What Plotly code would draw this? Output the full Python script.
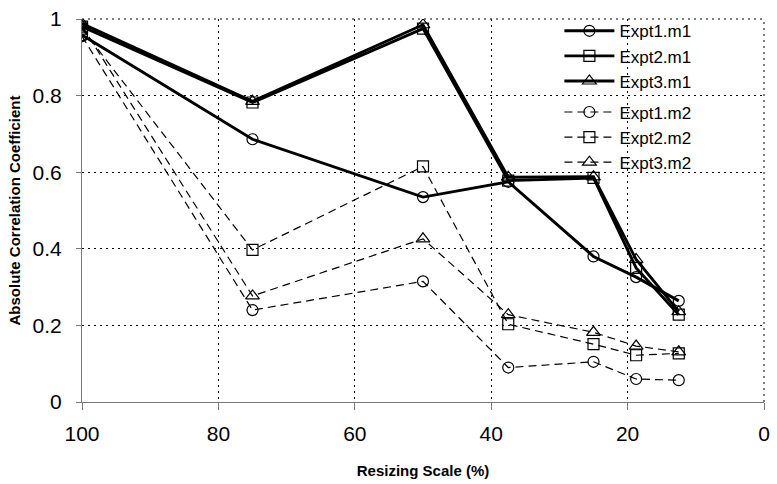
import plotly.graph_objects as go

# Resizing scale (%) for each test point
scale = [100, 75, 50, 37.5, 25, 18.75, 12.5]

# Absolute correlation coefficients, method 1
expt1_m1 = [0.958, 0.686, 0.535, 0.575, 0.380, 0.326, 0.264]
expt2_m1 = [0.980, 0.782, 0.975, 0.578, 0.585, 0.350, 0.228]
expt3_m1 = [0.988, 0.785, 0.985, 0.587, 0.588, 0.372, 0.236]

# Absolute correlation coefficients, method 2
expt1_m2 = [0.955, 0.240, 0.315, 0.090, 0.105, 0.060, 0.057]
expt2_m2 = [0.975, 0.397, 0.615, 0.203, 0.151, 0.122, 0.127]
expt3_m2 = [0.982, 0.277, 0.426, 0.228, 0.182, 0.146, 0.131]

x_ticks = [100, 80, 60, 40, 20, 0]
y_ticks = [0, 0.2, 0.4, 0.6, 0.8, 1]
y_tick_text = ["0", "0.2", "0.4", "0.6", "0.8", "1"]

FONT = "Liberation Sans, Arial, Helvetica, sans-serif"
DOTS = "2px,4px"

series = [
    ("Expt1.m1", expt1_m1, "circle-open", "m1"),
    ("Expt2.m1", expt2_m1, "square-open", "m1"),
    ("Expt3.m1", expt3_m1, "triangle-up-open", "m1"),
    ("Expt1.m2", expt1_m2, "circle-open", "m2"),
    ("Expt2.m2", expt2_m2, "square-open", "m2"),
    ("Expt3.m2", expt3_m2, "triangle-up-open", "m2"),
]

fig = go.Figure()
for name, vals, symbol, group in series:
    solid = group == "m1"
    fig.add_trace(go.Scatter(
        x=scale, y=vals, name=name, mode="lines+markers",
        legend="legend" if solid else "legend2",
        line=dict(color="black", width=2.9 if solid else 1.2,
                  dash="solid" if solid else "8px,5px"),
        marker=dict(symbol=symbol, size=12 if "triangle" in symbol else 11,
                    color="black", line=dict(width=1.2, color="black")),
    ))

# white panel behind the legends, hiding the grid there
fig.add_shape(type="rect", xref="paper", yref="paper",
              x0=0.647, x1=0.956, y0=0.618, y1=0.995,
              fillcolor="white", line=dict(width=0), layer="between")

# dotted frame on the top and right edges of the plot area
fig.add_shape(type="line", xref="paper", yref="paper", x0=0, x1=1, y0=1, y1=1,
              line=dict(color="black", width=1, dash=DOTS), layer="between")
fig.add_shape(type="line", xref="paper", yref="paper", x0=1, x1=1, y0=0, y1=1,
              line=dict(color="black", width=1, dash=DOTS), layer="between")

grid = dict(showgrid=True, gridcolor="black", gridwidth=1, griddash=DOTS)
legend_style = dict(
    xanchor="left", yanchor="top", x=0.70,
    bgcolor="rgba(0,0,0,0)", borderwidth=0,
    font=dict(size=17, family=FONT), itemwidth=50,
)

fig.update_layout(
    width=777, height=484,
    margin=dict(l=82, r=7, t=13, b=81),
    paper_bgcolor="white", plot_bgcolor="white",
    font=dict(family=FONT, color="black"),
    showlegend=True,
    legend=dict(y=1.015, **legend_style),
    legend2=dict(y=0.803, **legend_style),
    xaxis=dict(
        range=[100, 0], tickvals=x_ticks, ticks="outside", ticklen=7,
        tickcolor="#777", tickwidth=1, showline=True, linecolor="#777",
        linewidth=1, mirror=False, zeroline=False,
        tickfont=dict(size=21), ticklabelstandoff=6,
        title=dict(text="<b>Resizing Scale (%)</b>",
                   font=dict(size=15), standoff=21),
        **grid,
    ),
    yaxis=dict(
        range=[0, 1], tickvals=y_ticks, ticktext=y_tick_text,
        ticks="outside", ticklen=5, tickcolor="#777", tickwidth=1,
        showline=True, linecolor="#777", linewidth=1, zeroline=False,
        tickfont=dict(size=21), ticklabelstandoff=10,
        title=dict(text="<b>Absolute Correlation Coefficient</b>",
                   font=dict(size=15), standoff=8),
        **grid,
    ),
)

fig.write_html("out.html")
